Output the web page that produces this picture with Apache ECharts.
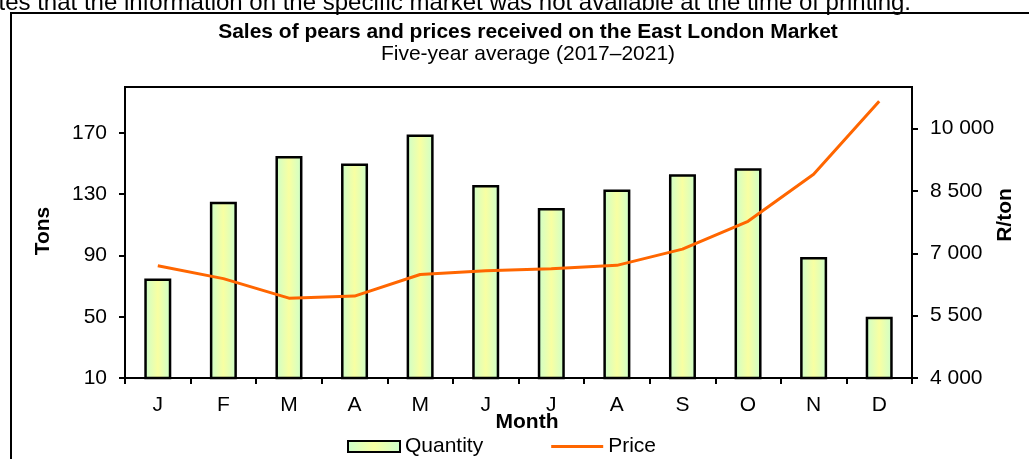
<!DOCTYPE html>
<html>
<head>
<meta charset="utf-8">
<script src="https://cdn.jsdelivr.net/npm/echarts@6/dist/echarts.min.js"></script>
<style>
  html, body { margin: 0; padding: 0; background: #fff; }
  #pear-chart { width: 1029px; height: 459px; }
</style>
</head>
<body>
<div id="pear-chart"></div>
<script>
const months = ['J', 'F', 'M', 'A', 'M', 'J', 'J', 'A', 'S', 'O', 'N', 'D'];
const quantity = [75, 125, 155, 150, 169, 136, 121, 133, 143, 147, 89, 50];
const price = [6700, 6390, 5920, 5970, 6490, 6580, 6630, 6710, 7100, 7770, 8900, 10660];
const tonTicks = [10, 50, 90, 130, 170];
const priceTicks = [4000, 5500, 7000, 8500, 10000];

const font = 'Arial, "Liberation Sans", sans-serif';

function spaced(v) {
  return String(v).replace(/\B(?=(\d{3})+(?!\d))/g, ' ');
}

const chart = echarts.init(document.getElementById('pear-chart'), null, { renderer: 'canvas' });

chart.setOption({
  animation: false,
  textStyle: { fontFamily: font, color: '#000' },
  title: [
    {
      text: 'Sales of pears and prices received on the East London Market',
      left: 523, top: 17, textAlign: 'center',
      textStyle: { fontFamily: font, fontSize: 21, fontWeight: 'bold', color: '#000' }
    },
    {
      text: 'Five-year average (2017–2021)',
      left: 523, top: 39, textAlign: 'center',
      textStyle: { fontFamily: font, fontSize: 21, fontWeight: 'normal', color: '#000' }
    }
  ],
  graphic: [
    {
      type: 'rect', silent: true,
      shape: { x: 11, y: 13, width: 1040, height: 470 },
      style: { fill: 'none', stroke: '#000', lineWidth: 2 }
    },
    {
      type: 'text', silent: true, x: 911, y: 15,
      style: {
        text: 'ates that the information on the specific market was not available at the time of printing.',
        font: '24px ' + font, fill: '#000', align: 'right', verticalAlign: 'bottom'
      }
    },
    {
      type: 'text', silent: true, x: 43, y: 231, rotation: Math.PI / 2,
      style: { text: 'Tons', font: 'bold 21px ' + font, fill: '#000', align: 'center', verticalAlign: 'middle' }
    },
    {
      type: 'text', silent: true, x: 1005, y: 215, rotation: Math.PI / 2,
      style: { text: 'R/ton', font: 'bold 21px ' + font, fill: '#000', align: 'center', verticalAlign: 'middle' }
    },
    {
      type: 'text', silent: true, x: 527, y: 422,
      style: { text: 'Month', font: 'bold 21px ' + font, fill: '#000', align: 'center', verticalAlign: 'middle' }
    }
  ],
  legend: {
    left: 347, top: 436, padding: 0,
    itemWidth: 52, itemHeight: 11, itemGap: 68,
    textStyle: { fontFamily: font, fontSize: 21, color: '#000' },
    data: [
      { name: 'Quantity', icon: 'rect' },
      {
        name: 'Price',
        icon: 'path://M0,0 L0.01,0 L0,0.01 Z M0,4 L52,4 L52,7 L0,7 Z M52,11 L51.99,11 L52,10.99 Z',
        itemStyle: { color: '#FF6600', borderWidth: 0 }
      }
    ]
  },
  grid: { left: 125, right: 117, top: 87, bottom: 81, show: true, borderColor: '#000', borderWidth: 2, outerBoundsMode: 'none' },
  xAxis: {
    type: 'category',
    data: months,
    axisLine: { lineStyle: { color: '#000', width: 2 } },
    axisTick: { show: true, length: 6, lineStyle: { color: '#000', width: 2 } },
    axisLabel: { fontFamily: font, fontSize: 21, color: '#000', margin: 17 },
    splitLine: { show: false }
  },
  yAxis: [
    {
      type: 'value', min: 10, max: 200,
      axisLine: { show: true, lineStyle: { color: '#000', width: 2 } },
      axisTick: { show: true, length: 6, customValues: tonTicks, lineStyle: { color: '#000', width: 2 } },
      axisLabel: { fontFamily: font, fontSize: 21, color: '#000', margin: 18, customValues: tonTicks },
      splitLine: { show: false }
    },
    {
      type: 'value', min: 4000, max: 11000,
      axisLine: { show: true, lineStyle: { color: '#000', width: 2 } },
      axisTick: { show: true, length: 6, customValues: priceTicks, lineStyle: { color: '#000', width: 2 } },
      axisLabel: { fontFamily: font, fontSize: 21, color: '#000', margin: 18, customValues: priceTicks, formatter: spaced },
      splitLine: { show: false }
    }
  ],
  series: [
    {
      name: 'Quantity',
      type: 'bar',
      yAxisIndex: 0,
      barWidth: 27,
      data: quantity,
      itemStyle: {
        borderColor: '#000',
        borderWidth: 2.5,
        color: {
          type: 'linear', x: 0, y: 0, x2: 1, y2: 0,
          colorStops: [
            { offset: 0, color: '#CCFFCC' },
            { offset: 0.5, color: '#F8FFA2' },
            { offset: 1, color: '#CCFFCC' }
          ]
        }
      }
    },
    {
      name: 'Price',
      type: 'line',
      yAxisIndex: 1,
      data: price,
      symbol: 'none',
      lineStyle: { color: '#FF6600', width: 3 },
      itemStyle: { color: '#FF6600' }
    }
  ]
});
</script>
</body>
</html>
